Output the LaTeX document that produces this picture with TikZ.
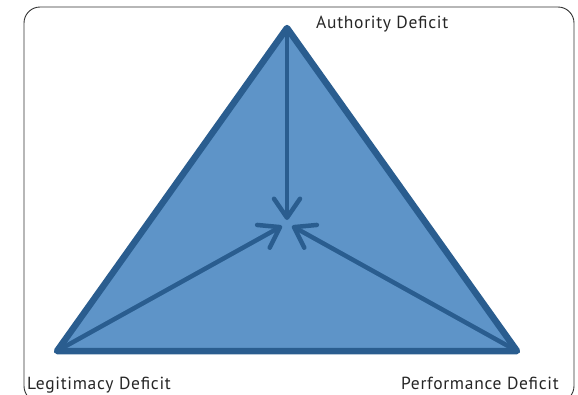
\documentclass[tikz,border=0pt]{standalone}
\usepackage{fontspec}
\setmainfont{PT Sans}
\newfontfamily\lblfont[LetterSpace=4]{PT Sans}
\usetikzlibrary{arrows.meta}
\definecolor{tfill}{HTML}{5E94C8}
\definecolor{tline}{HTML}{2A5D8F}
\definecolor{frame}{HTML}{333333}
\tikzset{
  lbl/.style={font=\lblfont\fontsize{17.5}{19}\selectfont, text=black!85, inner sep=0pt},
  conv/.style={draw=tline, line width=4.5pt, line cap=round, -{Straight Barb[length=19pt, width=26pt, line width=4.5pt, round]}},
}
\begin{document}
\begin{tikzpicture}[x=1pt,y=-1pt]
\useasboundingbox (0,0) rectangle (578,394);
\begin{scope}
\clip (0,0) rectangle (578,394);
\draw[frame, line width=0.9pt, rounded corners=16pt] (24,7) rectangle (574,402);
\end{scope}
\coordinate (A) at (287,28);
\coordinate (L) at (57,351);
\coordinate (R) at (517,351);
\draw[tline, fill=tfill, line width=6.5pt, line join=round] (A) -- (L) -- (R) -- cycle;
\coordinate (Ct) at (287,220);
\coordinate (Cl) at (282,226);
\coordinate (Cr) at (292,226);
\draw[conv] (A) -- (Ct);
\draw[conv] (L) -- (Cl);
\draw[conv] (R) -- (Cr);
\node[lbl, anchor=base west] (ta) at (316,28) {Authority Deficit};
\node[lbl, anchor=base west] (tl) at (27,389) {Legitimacy Deficit};
\node[lbl, anchor=base east] (tr) at (559,389) {Performance Deficit};
\end{tikzpicture}
\end{document}
